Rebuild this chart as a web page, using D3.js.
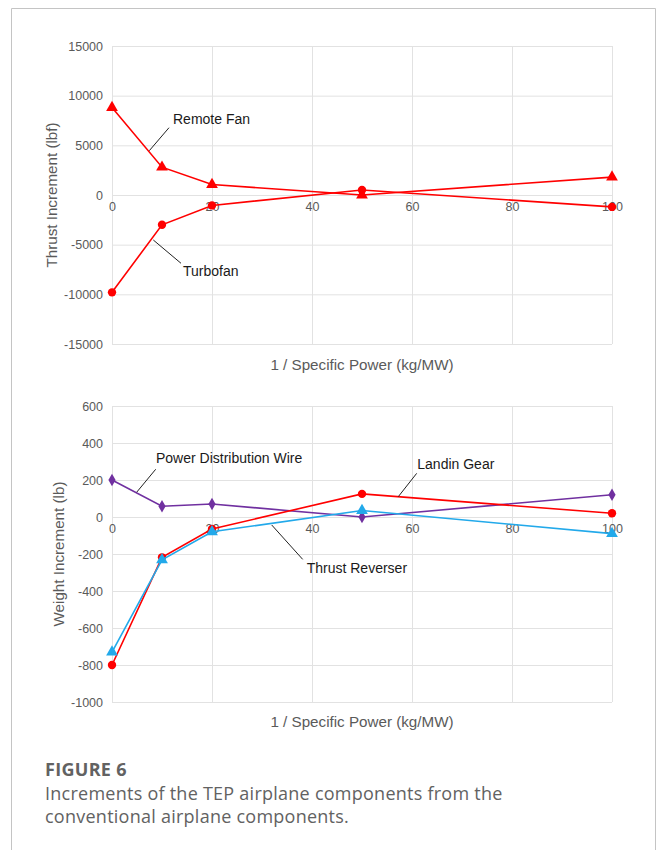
<!DOCTYPE html>
<html>
<head>
<meta charset="utf-8">
<script src="https://cdn.jsdelivr.net/npm/d3@7"></script>
<style>
  html, body { margin: 0; padding: 0; background: #fff; }
  svg { display: block; }
</style>
</head>
<body>
<svg id="fig" width="656" height="850"></svg>
<script>
// Inverse specific power (kg/MW) sampled in both panels
const specificPowerInv = [0, 10, 20, 50, 100];
const xTicks = [0, 20, 40, 60, 80, 100];

// Thrust increments (lbf)
const remoteFanThrust = [8800, 2800, 1050, 0, 1800];
const turbofanThrust = [-9800, -3000, -1050, 500, -1200];
const thrustTicks = [-15000, -10000, -5000, 0, 5000, 10000, 15000];

// Weight increments (lb)
const wireWeight = [200, 58, 70, 0, 120];
const gearWeight = [-800, -218, -65, 125, 20];
const reverserWeight = [-730, -232, -80, 35, -90];
const weightTicks = [-1000, -800, -600, -400, -200, 0, 200, 400, 600];

const svg = d3.select("#fig");
const chartFont = "'Liberation Sans', Arial, Helvetica, sans-serif";
const capFont = "'Open Sans', 'Noto Sans', sans-serif";

// outer frame (open at the bottom)
svg.append("path")
  .attr("d", "M11.5,850 V8.5 H655.5 V850")
  .attr("fill", "none").attr("stroke", "#c4c4c4").attr("stroke-width", 1);

const x = d3.scaleLinear().domain([0, 100]).range([112, 612]);

function panel(cfg) {
  const y = d3.scaleLinear().domain(cfg.domain).range(cfg.range);
  const g = svg.append("g");
  const [yBottom, yTop] = cfg.range;

  // horizontal grid + y labels
  const yAxis = g.append("g").attr("transform", `translate(${x(0)},0)`)
    .call(d3.axisLeft(y).tickValues(cfg.ticks).tickSize(-(x(100) - x(0))).tickPadding(9).tickFormat(d => String(d)));
  yAxis.select(".domain").remove();
  yAxis.selectAll("line").attr("stroke", "#e2e2e2").attr("stroke-width", 1);
  yAxis.selectAll("text").attr("fill", "#5a5a5a").style("font-family", chartFont).style("font-size", "12.5px");

  // vertical grid
  const xGrid = g.append("g").attr("transform", `translate(0,${yBottom})`)
    .call(d3.axisBottom(x).tickValues(xTicks).tickSize(-(yBottom - yTop)).tickFormat(""));
  xGrid.select(".domain").remove();
  xGrid.selectAll("line").attr("stroke", "#e2e2e2").attr("stroke-width", 1);

  // x labels sit on the zero line
  const xAxis = g.append("g").attr("transform", `translate(0,${y(0)})`)
    .call(d3.axisBottom(x).tickValues(xTicks).tickSize(0).tickPadding(7));
  xAxis.select(".domain").remove();
  xAxis.selectAll("text").attr("fill", "#5a5a5a").style("font-family", chartFont).style("font-size", "12.5px");

  // axis titles
  g.append("text")
    .attr("transform", `translate(${cfg.yTitleX},${(yBottom + yTop) / 2}) rotate(-90)`)
    .attr("text-anchor", "middle").attr("dominant-baseline", "middle")
    .attr("fill", "#5a5a5a").style("font-family", chartFont).style("font-size", "15.2px")
    .text(cfg.yTitle);
  g.append("text")
    .attr("x", (x(0) + x(100)) / 2).attr("y", cfg.xTitleY)
    .attr("text-anchor", "middle").attr("dominant-baseline", "middle")
    .attr("fill", "#5a5a5a").style("font-family", chartFont).style("font-size", "15.2px")
    .text("1 / Specific Power (kg/MW)");

  // series
  const line = d3.line().x((d, i) => x(specificPowerInv[i])).y(d => y(d));
  cfg.series.forEach(s => {
    g.append("path").datum(s.values)
      .attr("d", line).attr("fill", "none")
      .attr("stroke", s.color).attr("stroke-width", 1.6);
    const sym = d3.symbol().type(s.symbol).size(s.size);
    g.selectAll(null).data(s.values).enter().append("path")
      .attr("d", sym)
      .attr("transform", (d, i) => `translate(${x(specificPowerInv[i])},${y(d)})`)
      .attr("fill", s.color);
  });

  // callout labels with leader lines
  cfg.notes.forEach(n => {
    g.append("line")
      .attr("x1", x(n.from[0])).attr("y1", y(n.from[1]))
      .attr("x2", x(n.to[0])).attr("y2", y(n.to[1]))
      .attr("stroke", "#222").attr("stroke-width", 1);
    g.append("text")
      .attr("x", x(n.at[0])).attr("y", y(n.at[1]))
      .attr("dominant-baseline", "middle")
      .attr("fill", "#1a1a1a").style("font-family", chartFont).style("font-size", "14px")
      .text(n.text);
  });
}

panel({
  domain: [-15000, 15000], range: [344, 46], ticks: thrustTicks,
  yTitle: "Thrust Increment  (lbf)", yTitleX: 53, xTitleY: 366,
  series: [
    { values: remoteFanThrust, color: "#ff0000", symbol: d3.symbolTriangle, size: 60 },
    { values: turbofanThrust, color: "#ff0000", symbol: d3.symbolCircle, size: 55 }
  ],
  notes: [
    { text: "Remote Fan", at: [12.2, 7550], from: [11.4, 6775], to: [7.46, 4460] },
    { text: "Turbofan", at: [14.2, -7750], from: [8.26, -4530], to: [13.8, -6875] }
  ]
});

panel({
  domain: [-1000, 600], range: [702, 406], ticks: weightTicks,
  yTitle: "Weight Increment (lb)", yTitleX: 60, xTitleY: 723,
  series: [
    { values: wireWeight, color: "#7030a0", symbol: d3.symbolDiamond, size: 45 },
    { values: gearWeight, color: "#ff0000", symbol: d3.symbolCircle, size: 55 },
    { values: reverserWeight, color: "#22a9ea", symbol: d3.symbolTriangle, size: 60 }
  ],
  notes: [
    { text: "Power Distribution Wire", at: [8.8, 313], from: [8.74, 258], to: [4.94, 134] },
    { text: "Landin Gear", at: [61.06, 281], from: [60.94, 236], to: [57.26, 110] },
    { text: "Thrust Reverser", at: [38.94, -283], from: [31.94, -43], to: [38.14, -229] }
  ]
});

// caption
const cap = svg.append("g").attr("fill", "#626262").style("font-family", capFont);
cap.append("text").attr("x", 45).attr("y", 776)
  .style("font-size", "18px").style("font-weight", "700").style("letter-spacing", "0.3px").text("FIGURE 6");
cap.append("text").attr("x", 45).attr("y", 800)
  .style("font-size", "18px").style("letter-spacing", "0.25px").text("Increments of the TEP airplane components from the");
cap.append("text").attr("x", 45).attr("y", 823)
  .style("font-size", "18px").style("letter-spacing", "0.25px").text("conventional airplane components.");
</script>
</body>
</html>
